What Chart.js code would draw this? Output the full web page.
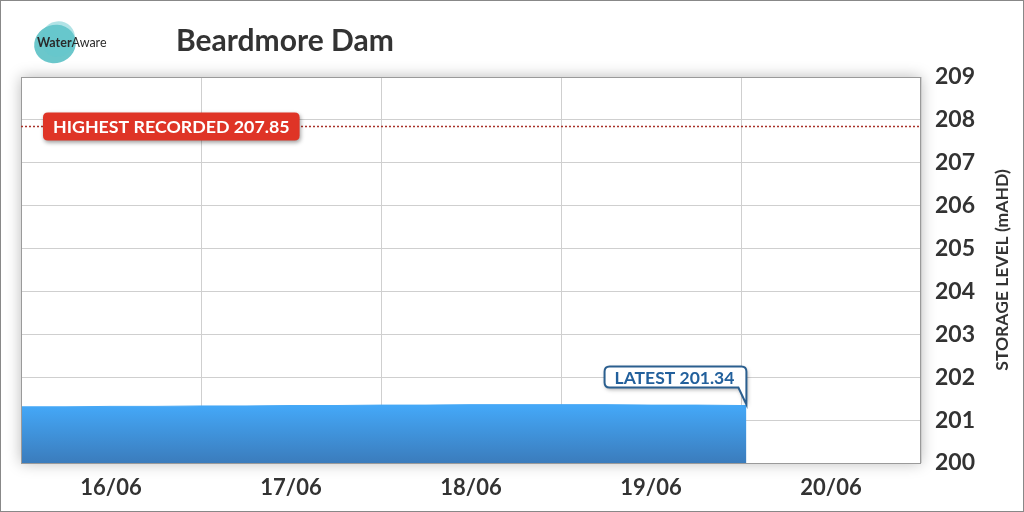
<!DOCTYPE html>
<html>
<head>
<meta charset="utf-8">
<script src="https://cdn.jsdelivr.net/npm/chart.js@4.4.1/dist/chart.umd.min.js"></script>
<style>
  html, body { margin: 0; padding: 0; background: #fff; }
  #wrap { position: relative; width: 1024px; height: 512px; }
</style>
</head>
<body>
<div id="wrap"><canvas id="damChart" width="1024" height="512"></canvas></div>
<script>
// chart data
var chartTitle = 'Beardmore Dam';
var yAxisTitle = 'STORAGE LEVEL (mAHD)';
var dayLabels = ['16/06', '17/06', '18/06', '19/06', '20/06'];
// days since 16/06 00:00
var levelTimes = [0, 0.25, 0.5, 0.75, 1.0, 1.25, 1.5, 1.75, 2.0, 2.25, 2.5, 2.75, 3.0, 3.25, 3.5, 3.75, 4.0, 4.03];
var levelValues = [201.31, 201.31, 201.32, 201.32, 201.33, 201.33, 201.34, 201.34, 201.35, 201.35, 201.36, 201.36, 201.36, 201.36, 201.35, 201.35, 201.34, 201.34];
var yTicks = [200, 201, 202, 203, 204, 205, 206, 207, 208, 209];
var highestRecorded = 207.85;
var latestLevel = 201.34;

var points = levelTimes.map(function(t, i) { return { x: t, y: levelValues[i] }; });

// x ticks: whole days carry the grid, half days carry the labels
var xTickValues = [];
for (var d = 0; d <= dayLabels.length; d++) {
    xTickValues.push(d);
    if (d < dayLabels.length) xTickValues.push(d + 0.5);
}

function roundRect(ctx, x, y, w, h, r) {
    ctx.beginPath();
    ctx.moveTo(x + r, y);
    ctx.lineTo(x + w - r, y);
    ctx.quadraticCurveTo(x + w, y, x + w, y + r);
    ctx.lineTo(x + w, y + h - r);
    ctx.quadraticCurveTo(x + w, y + h, x + w - r, y + h);
    ctx.lineTo(x + r, y + h);
    ctx.quadraticCurveTo(x, y + h, x, y + h - r);
    ctx.lineTo(x, y + r);
    ctx.quadraticCurveTo(x, y, x + r, y);
    ctx.closePath();
}

var decorPlugin = {
    id: 'decor',
    beforeDraw: function(chart) {
        var ctx = chart.ctx;
        var a = chart.chartArea;
        ctx.save();
        ctx.fillStyle = '#fff';
        ctx.fillRect(0, 0, chart.width, chart.height);
        // soft shadow behind plot area
        ctx.shadowColor = 'rgba(0,0,0,0.28)';
        ctx.shadowBlur = 14;
        ctx.fillRect(a.left, a.top, a.right - a.left, a.bottom - a.top);
        ctx.restore();

        // logo
        ctx.save();
        ctx.fillStyle = 'rgba(70,185,190,0.8)';
        ctx.beginPath();
        ctx.ellipse(55, 44, 21, 19, -0.3, 0, Math.PI * 2);
        ctx.fill();
        ctx.fillStyle = 'rgba(100,200,205,0.5)';
        ctx.beginPath();
        ctx.ellipse(58, 39, 17, 18, 0.4, 0, Math.PI * 2);
        ctx.fill();
        ctx.fillStyle = '#2a2a2a';
        ctx.textBaseline = 'middle';
        ctx.font = 'bold 12.5px Lato';
        ctx.fillText('Water', 37, 43);
        var w = ctx.measureText('Water').width;
        ctx.font = '12.5px Lato';
        ctx.fillText('Aware', 37 + w, 43);
        // title
        ctx.font = 'bold 30px Lato';
        ctx.fillStyle = '#333';
        ctx.fillText(chartTitle, 176, 41);
        // y axis title, reading bottom to top
        ctx.translate(1002, 270);
        ctx.rotate(-Math.PI / 2);
        ctx.textAlign = 'center';
        ctx.font = 'bold 17.5px Lato';
        ctx.fillText(yAxisTitle, 0, 0);
        ctx.restore();
    },
    afterDatasetsDraw: function(chart) {
        var ctx = chart.ctx;
        var a = chart.chartArea;
        var xs = chart.scales.x, ys = chart.scales.y;

        // plot border
        ctx.save();
        ctx.strokeStyle = '#9a9a9a';
        ctx.lineWidth = 1;
        ctx.strokeRect(a.left + 0.5, a.top + 0.5, a.right - a.left - 1, a.bottom - a.top);
        ctx.restore();

        // highest recorded line
        var hy = Math.round(ys.getPixelForValue(highestRecorded)) + 0.5;
        ctx.save();
        ctx.strokeStyle = '#a8322a';
        ctx.lineWidth = 1.5;
        ctx.setLineDash([2, 2]);
        ctx.beginPath();
        ctx.moveTo(a.left, hy);
        ctx.lineTo(a.right, hy);
        ctx.stroke();
        ctx.restore();

        ctx.save();
        ctx.font = 'bold 17.8px Lato';
        var hText = 'HIGHEST RECORDED ' + highestRecorded.toFixed(2);
        var hw = ctx.measureText(hText).width + 20;
        ctx.shadowColor = 'rgba(0,0,0,0.4)';
        ctx.shadowBlur = 4;
        ctx.shadowOffsetX = 1;
        ctx.shadowOffsetY = 2;
        ctx.fillStyle = '#df3426';
        roundRect(ctx, 43, hy - 14, hw, 28, 5);
        ctx.fill();
        ctx.shadowColor = 'transparent';
        ctx.fillStyle = '#fff';
        ctx.textBaseline = 'middle';
        ctx.fillText(hText, 53, hy + 1);
        ctx.restore();

        // latest callout
        var lx = xs.getPixelForValue(levelTimes[levelTimes.length - 1]);
        var ly = ys.getPixelForValue(latestLevel);
        ctx.save();
        ctx.font = 'bold 17.5px Lato';
        var lText = 'LATEST ' + latestLevel.toFixed(2);
        var lw = ctx.measureText(lText).width + 22;
        var bx = lx - lw, by = ly - 39, bh = 21;
        ctx.shadowColor = 'rgba(0,0,0,0.35)';
        ctx.shadowBlur = 4;
        ctx.shadowOffsetX = 1;
        ctx.shadowOffsetY = 2;
        ctx.fillStyle = '#fff';
        ctx.strokeStyle = '#2b5f8f';
        ctx.lineWidth = 2;
        ctx.beginPath();
        ctx.moveTo(bx + 5, by);
        ctx.lineTo(bx + lw - 5, by);
        ctx.quadraticCurveTo(bx + lw, by, bx + lw, by + 5);
        ctx.lineTo(lx, ly - 1);
        ctx.lineTo(bx + lw - 8, by + bh);
        ctx.lineTo(bx + 5, by + bh);
        ctx.quadraticCurveTo(bx, by + bh, bx, by + bh - 5);
        ctx.lineTo(bx, by + 5);
        ctx.quadraticCurveTo(bx, by, bx + 5, by);
        ctx.closePath();
        ctx.fill();
        ctx.shadowColor = 'transparent';
        ctx.stroke();
        ctx.fillStyle = '#22609c';
        ctx.textBaseline = 'middle';
        ctx.fillText(lText, bx + 10, by + bh / 2 + 1);
        ctx.restore();

        // outer frame
        ctx.save();
        ctx.strokeStyle = '#888';
        ctx.lineWidth = 1;
        ctx.strokeRect(0.5, 0.5, chart.width - 1, chart.height - 1);
        ctx.restore();
    }
};

var ctx = document.getElementById('damChart').getContext('2d');
var damChart = new Chart(ctx, {
    type: 'line',
    data: {
        datasets: [{
            label: 'Storage level',
            data: points,
            fill: 'start',
            borderWidth: 1,
            borderColor: '#46a8f5',
            pointRadius: 0,
            tension: 0,
            backgroundColor: function(context) {
                var area = context.chart.chartArea;
                if (!area) return '#3f93dc';
                var top = context.chart.scales.y.getPixelForValue(latestLevel);
                var g = context.chart.ctx.createLinearGradient(0, top, 0, area.bottom);
                g.addColorStop(0, '#44a8f8');
                g.addColorStop(1, '#3b7cbc');
                return g;
            }
        }]
    },
    options: {
        responsive: false,
        animation: false,
        layout: { padding: { left: 21, top: 77, right: 0, bottom: 0 } },
        plugins: {
            legend: { display: false },
            tooltip: { enabled: false }
        },
        scales: {
            x: {
                type: 'linear',
                min: 0,
                max: dayLabels.length,
                afterBuildTicks: function(axis) {
                    axis.ticks = xTickValues.map(function(v) { return { value: v }; });
                },
                afterFit: function(axis) { axis.height = 49; },
                grid: {
                    drawTicks: false,
                    color: function(c) {
                        return (c.tick && c.tick.value % 1 === 0) ? '#cfcfcf' : 'rgba(0,0,0,0)';
                    }
                },
                border: { display: false },
                ticks: {
                    autoSkip: false,
                    maxRotation: 0,
                    padding: 12,
                    color: '#333',
                    font: { family: 'Lato', size: 22, weight: 'bold' },
                    callback: function(value) {
                        if (value % 1 === 0) return '';
                        return dayLabels[Math.floor(value)];
                    }
                }
            },
            y: {
                position: 'right',
                min: yTicks[0],
                max: yTicks[yTicks.length - 1],
                afterBuildTicks: function(axis) {
                    axis.ticks = yTicks.map(function(v) { return { value: v }; });
                },
                afterFit: function(axis) { axis.width = 103; },
                grid: { drawTicks: false, color: '#cfcfcf' },
                border: { display: false },
                ticks: {
                    padding: 14,
                    color: '#333',
                    font: { family: 'Lato', size: 23, weight: 'bold' }
                }
            }
        }
    },
    plugins: [decorPlugin]
});
</script>
</body>
</html>
